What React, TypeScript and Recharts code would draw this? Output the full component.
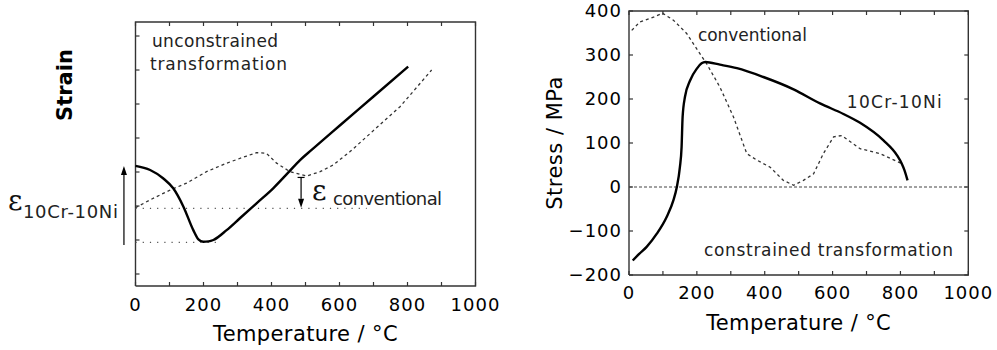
import React from 'react';
import { LineChart, Line, XAxis, YAxis, ReferenceLine, ReferenceDot } from 'recharts';

// ---- Left panel: unconstrained transformation (strain, arbitrary units) ----
const strainTemp10Cr = [0, 43, 82, 111, 141, 170, 185, 199, 215, 229, 268, 307, 356, 405, 449, 484, 518, 600, 700, 802];
const strain10Cr = [2.18, 2.06, 1.81, 1.52, 0.98, 0.29, 0.02, -0.05, -0.04, 0.0, 0.29, 0.64, 1.08, 1.52, 1.98, 2.35, 2.65, 3.36, 4.22, 5.1];
const strainTempConv = [0, 43, 106, 150, 209, 268, 327, 356, 385, 415, 454, 503, 543, 582, 631, 680, 778, 871];
const strainConv = [0.95, 1.18, 1.49, 1.67, 2.01, 2.26, 2.47, 2.57, 2.55, 2.26, 2.01, 1.88, 2.01, 2.21, 2.6, 3.04, 3.92, 5.0];
const strainRefLevels = [0.93, -0.07];
const strainRefEnds = [680, 250];

// ---- Right panel: constrained transformation (stress, MPa) ----
const stressTemp10Cr = [11, 30, 52, 82, 111, 131, 141, 150, 155, 158, 165, 180, 200, 214, 225, 268, 318, 396, 485, 563, 632, 681, 750, 790, 804, 812, 821];
const stress10Cr = [-167, -152, -136, -106, -68, -30, 0, 45, 91, 159, 205, 242, 269, 281, 284, 278, 270, 250, 222, 190, 166, 146, 106, 72, 53, 38, 15];
const stressTempConv = [8, 32, 72, 99, 131, 170, 209, 229, 268, 308, 347, 377, 416, 455, 485, 514, 544, 573, 603, 627, 681, 740, 804];
const stressConv = [356, 375, 386, 395, 379, 349, 303, 280, 227, 159, 76, 61, 45, 15, 4, 15, 30, 76, 114, 117, 87, 76, 53];

// ---- Ticks ----
const tempTicks = [0, 100, 200, 300, 400, 500, 600, 700, 800, 900, 1000];
const stressTicks = [-200, -100, 0, 100, 200, 300, 400];
const strainTicks = [-1, 0, 1, 2, 3, 4, 5, 6];
const tempDomain = [0, 1000];
const strainDomain = [-1.353, 6.412];
const stressDomain = [-200, 400];

const toPts = (xs: number[], ys: number[]) => xs.map((x, i) => ({ x, y: ys[i] }));
const framePts = (xd: number[], yd: number[]) => [
  { x: xd[0], y: yd[0] },
  { x: xd[1], y: yd[0] },
  { x: xd[1], y: yd[1] },
  { x: xd[0], y: yd[1] },
  { x: xd[0], y: yd[0] },
];

const AXC = '#333';
const ANNFONT = 'DejaVu Sans';
const TL = 4;

const xTick = (p: any) => {
  const v = p.payload.value;
  if (v % 200 !== 0) return <g />;
  return (
    <text x={p.x} y={p.y} dy="0.71em" textAnchor="middle" fontFamily="DejaVu Sans" fontSize={18} letterSpacing={1} fill="#000">
      {String(v)}
    </text>
  );
};
const yTick = (p: any) => (
  <text x={p.x} y={p.y} dy="0.36em" textAnchor="end" fontFamily="DejaVu Sans" fontSize={18} letterSpacing={1} fill="#000">
    {String(p.payload.value).replace('-', '\u2212')}
  </text>
);

const textShape = (text: string, len: number | undefined, size: number, family: string, fill: string) => (p: any) => (
  <text x={p.cx} y={p.cy} fontFamily={family} fontSize={size} fill={fill} textLength={len} lengthAdjust={len ? 'spacing' : undefined}>
    {text}
  </text>
);

const arrowShape = (cap: boolean) => (p: any) => {
  const { x1, y1, x2, y2 } = p;
  const dir = y2 > y1 ? 1 : -1;
  const base = y2 - dir * 9;
  return (
    <g>
      <line x1={x1} y1={y1} x2={x2} y2={base} stroke="#000" strokeWidth={1.2} />
      <polygon points={`${x2},${y2} ${x2 - 3},${base} ${x2 + 3},${base}`} fill="#000" />
      {cap ? <line x1={x1 - 3.5} y1={y1} x2={x1 + 3.5} y2={y1} stroke="#000" strokeWidth={1.2} /> : null}
    </g>
  );
};

const vTickShape = (p: any) => {
  const top = Math.min(p.y1, p.y2);
  const bot = Math.max(p.y1, p.y2);
  return (
    <g>
      <line x1={p.x1} x2={p.x1} y1={top} y2={top + TL} stroke={AXC} strokeWidth={1.2} />
      <line x1={p.x1} x2={p.x1} y1={bot - TL} y2={bot} stroke={AXC} strokeWidth={1.2} />
    </g>
  );
};
const hTickShape = (both: boolean) => (p: any) => {
  const l = Math.min(p.x1, p.x2);
  const r = Math.max(p.x1, p.x2);
  return (
    <g>
      <line x1={l} x2={l + TL} y1={p.y1} y2={p.y1} stroke={AXC} strokeWidth={1.2} />
      {both ? <line x1={r - TL} x2={r} y1={p.y1} y2={p.y1} stroke={AXC} strokeWidth={1.2} /> : null}
    </g>
  );
};

const leftTexts = [
  { text: 'unconstrained', x: 48.5, y: 5.69, len: 126, size: 17 },
  { text: 'transformation', x: 42.6, y: 5.01, len: 137, size: 17 },
  { text: '10Cr-10Ni', x: -331, y: 0.65, len: 95, size: 18 },
  { text: 'conventional', x: 581, y: 1.03, len: 109, size: 18 },
];
const leftEps = [
  { x: -375, y: 0.88 },
  { x: 519, y: 1.18 },
];
const leftArrows = [
  { x: -34, from: -0.15, to: 2.18, cap: false },
  { x: 487, from: 1.84, to: 0.95, cap: true },
];
const rightTexts = [
  { text: 'conventional', x: 203, y: 332, len: 109, size: 17 },
  { text: '10Cr-10Ni', x: 642, y: 179, len: 95, size: 17 },
  { text: 'constrained transformation', x: 221, y: -157.5, len: 249, size: 17 },
];

const xTitle = (p: any) => {
  const vb = p.viewBox;
  return (
    <text x={vb.x + vb.width / 2} y={vb.y + 54.5} textAnchor="middle" fontFamily="DejaVu Sans" fontSize={21} letterSpacing={0.4} fill="#000">
      Temperature / °C
    </text>
  );
};

const strainTitle = (p: any) => {
  const vb = p.viewBox;
  const cx = vb.x + vb.width - 71;
  const cy = vb.y + 63;
  return (
    <text x={cx} y={cy} transform={`rotate(-90, ${cx}, ${cy})`} textAnchor="middle" dominantBaseline="central" fontFamily="DejaVu Sans" fontWeight="bold" fontSize={21} fill="#000">
      Strain
    </text>
  );
};

const stressTitle = (p: any) => {
  const vb = p.viewBox;
  const cx = vb.x + vb.width - 74;
  const cy = vb.y + vb.height / 2;
  return (
    <text x={cx} y={cy} transform={`rotate(-90, ${cx}, ${cy})`} textAnchor="middle" dominantBaseline="central" fontFamily="DejaVu Sans" fontSize={21} letterSpacing={0.5} fill="#000">
      Stress / MPa
    </text>
  );
};

function LeftPanel() {
  return (
    <LineChart width={500} height={350} margin={{ top: 22, right: 24.5, bottom: 24, left: 134.5 }}>
      <XAxis xAxisId="b" orientation="bottom" type="number" dataKey="x" domain={tempDomain} ticks={tempTicks} interval={0} tick={xTick} tickSize={-4} tickMargin={16} height={40} axisLine={false} tickLine={false} label={{ content: xTitle }} />
      <YAxis yAxisId="l" orientation="left" type="number" domain={strainDomain} ticks={strainTicks} interval={0} tick={false} tickSize={-4} width={1} axisLine={false} tickLine={false} label={{ content: strainTitle }} />
      <Line xAxisId="b" yAxisId="l" data={framePts(tempDomain, strainDomain)} dataKey="y" type="linear" stroke={AXC} strokeWidth={1.4} dot={false} isAnimationActive={false} />
      {tempTicks.map((t) => (
        <ReferenceLine key={'xt' + t} xAxisId="b" yAxisId="l" x={t} ifOverflow="visible" shape={vTickShape} />
      ))}
      {strainTicks.map((t) => (
        <ReferenceLine key={'yt' + t} xAxisId="b" yAxisId="l" y={t} ifOverflow="visible" shape={hTickShape(false)} />
      ))}
      {strainRefLevels.map((lv, i) => (
        <ReferenceLine key={'rl' + i} xAxisId="b" yAxisId="l" segment={[{ x: 0, y: lv }, { x: strainRefEnds[i], y: lv }]} stroke="#555" strokeWidth={1.2} strokeDasharray="1.2 6" ifOverflow="visible" />
      ))}
      <Line xAxisId="b" yAxisId="l" data={toPts(strainTempConv, strainConv)} dataKey="y" type="linear" stroke="#333" strokeWidth={1.3} strokeDasharray="3 3" dot={false} isAnimationActive={false} />
      <Line xAxisId="b" yAxisId="l" data={toPts(strainTemp10Cr, strain10Cr)} dataKey="y" type="monotone" stroke="#000" strokeWidth={2.4} dot={false} isAnimationActive={false} />
      {leftArrows.map((a, i) => (
        <ReferenceLine key={'ar' + i} xAxisId="b" yAxisId="l" segment={[{ x: a.x, y: a.from }, { x: a.x, y: a.to }]} ifOverflow="visible" shape={arrowShape(a.cap)} />
      ))}
      {leftEps.map((e, i) => (
        <ReferenceDot key={'ep' + i} xAxisId="b" yAxisId="l" x={e.x} y={e.y} ifOverflow="visible" shape={textShape('ε', undefined, 28, 'DejaVu Serif', '#111')} />
      ))}
      {leftTexts.map((t, i) => (
        <ReferenceDot key={'lt' + i} xAxisId="b" yAxisId="l" x={t.x} y={t.y} ifOverflow="visible" shape={textShape(t.text, t.len, t.size, ANNFONT, '#222')} />
      ))}
    </LineChart>
  );
}

function RightPanel() {
  return (
    <LineChart width={497} height={350} margin={{ top: 11, right: 28.7, bottom: 35, left: 69 }}>
      <XAxis xAxisId="b" orientation="bottom" type="number" dataKey="x" domain={tempDomain} ticks={tempTicks} interval={0} tick={xTick} tickSize={-4} tickMargin={15} height={40} axisLine={false} tickLine={false} label={{ content: xTitle }} />
      <YAxis yAxisId="l" orientation="left" type="number" domain={stressDomain} ticks={stressTicks} interval={0} tick={yTick} tickSize={-4} tickMargin={11} width={60} axisLine={false} tickLine={false} label={{ content: stressTitle }} />
      <Line xAxisId="b" yAxisId="l" data={framePts(tempDomain, stressDomain)} dataKey="y" type="linear" stroke={AXC} strokeWidth={1.4} dot={false} isAnimationActive={false} />
      {tempTicks.map((t) => (
        <ReferenceLine key={'xt' + t} xAxisId="b" yAxisId="l" x={t} ifOverflow="visible" shape={vTickShape} />
      ))}
      {stressTicks.map((t) => (
        <ReferenceLine key={'yt' + t} xAxisId="b" yAxisId="l" y={t} ifOverflow="visible" shape={hTickShape(true)} />
      ))}
      <ReferenceLine xAxisId="b" yAxisId="l" y={0} stroke="#444" strokeWidth={1.1} strokeDasharray="3 2" />
      <Line xAxisId="b" yAxisId="l" data={toPts(stressTempConv, stressConv)} dataKey="y" type="linear" stroke="#333" strokeWidth={1.3} strokeDasharray="3 3" dot={false} isAnimationActive={false} />
      <Line xAxisId="b" yAxisId="l" data={toPts(stressTemp10Cr, stress10Cr)} dataKey="y" type="monotone" stroke="#000" strokeWidth={2.4} dot={false} isAnimationActive={false} />
      {rightTexts.map((t, i) => (
        <ReferenceDot key={'rt' + i} xAxisId="b" yAxisId="l" x={t.x} y={t.y} ifOverflow="visible" shape={textShape(t.text, t.len, t.size, ANNFONT, '#222')} />
      ))}
    </LineChart>
  );
}

export default function App() {
  return (
    <div style={{ position: 'absolute', left: 0, top: 0, width: 997, height: 350, background: '#fff', display: 'flex' }}>
      <div style={{ width: 500, height: 350 }}>
        <LeftPanel />
      </div>
      <div style={{ width: 497, height: 350 }}>
        <RightPanel />
      </div>
    </div>
  );
}
